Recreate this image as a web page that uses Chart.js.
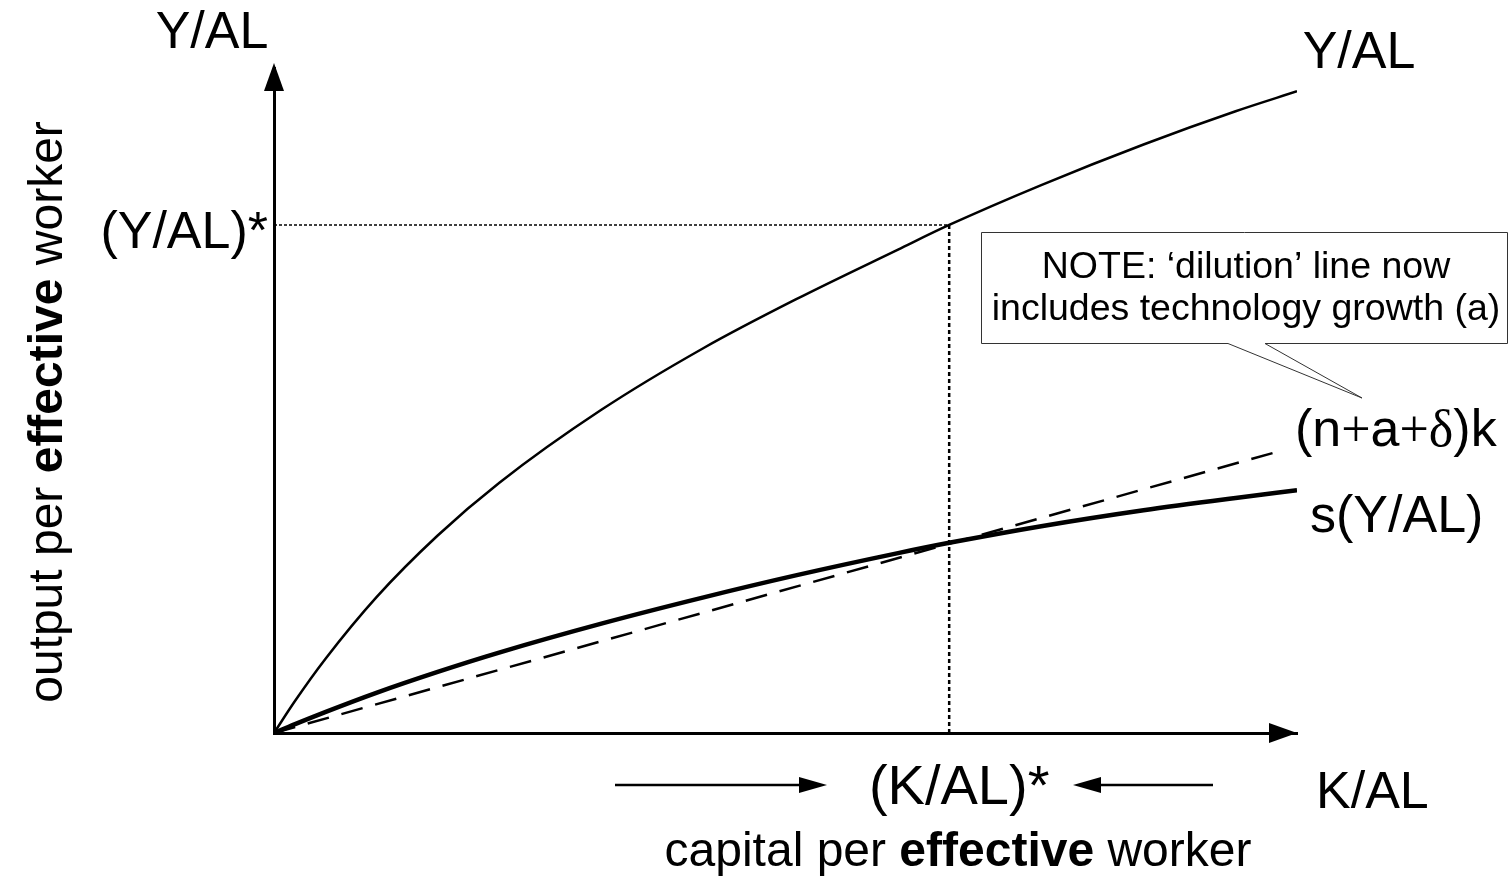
<!DOCTYPE html>
<html>
<head>
<meta charset="utf-8">
<title>Solow model with technology growth</title>
<script src="https://cdn.jsdelivr.net/npm/chart.js@4.4.1/dist/chart.umd.min.js"></script>
<style>
  html, body { margin: 0; padding: 0; background: #fff; }
  #wrap { width: 1509px; height: 879px; }
</style>
</head>
<body>
<div id="wrap"><canvas id="myChart" width="1509" height="879"></canvas></div>
<script>
// capital per effective worker (K/AL), shared by both curves
const kValues = [0, 2, 5, 10, 16, 22, 32, 42, 51, 61, 66, 75, 85, 94, 100];
// output per effective worker, Y/AL
const outputValues = [0, 4.7, 11.1, 20.4, 29.7, 37.6, 48.6, 57.9, 65.2, 72.7, 76.4, 82.4, 88.5, 93.5, 96.5];
// investment per effective worker, s(Y/AL)
const savingValues = [0, 1.3, 3.15, 6.05, 9.2, 12.1, 16.45, 20.4, 23.7, 27.05, 28.6, 31.1, 33.5, 35.35, 36.5];
// dilution line (n+a+δ)k, straight from the origin
const dilutionK = [0, 98.8];
const dilutionValues = [0, 42.6];
// steady state is this entry of kValues
const steadyIndex = 10;

const kStar = kValues[steadyIndex];
const yStar = outputValues[steadyIndex];

const SANS = '"Liberation Sans", Arial, Helvetica, sans-serif';
const SERIF = '"Liberation Serif", "Times New Roman", serif';

const toPoints = (xs, ys) => xs.map((x, i) => ({ x: x, y: ys[i] }));

// draws a row of text pieces, each with its own font
function drawPieces(ctx, pieces, x, y, align) {
  let total = 0;
  pieces.forEach(p => { ctx.font = p[1]; total += ctx.measureText(p[0]).width; });
  let cx = align === 'center' ? x - total / 2 : x;
  ctx.textAlign = 'left';
  pieces.forEach(p => {
    ctx.font = p[1];
    ctx.fillText(p[0], cx, y);
    cx += ctx.measureText(p[0]).width;
  });
}

function arrowHead(ctx, tipX, tipY, dx, dy, len, half) {
  // dx, dy: unit direction the arrow points to
  const bx = tipX - dx * len, by = tipY - dy * len;
  ctx.beginPath();
  ctx.moveTo(tipX, tipY);
  ctx.lineTo(bx - dy * half, by + dx * half);
  ctx.lineTo(bx + dy * half, by - dx * half);
  ctx.closePath();
  ctx.fill();
}

const annotations = {
  id: 'annotations',
  afterDraw(chart) {
    const ctx = chart.ctx;
    const area = chart.chartArea;
    const xs = chart.scales.x, ys = chart.scales.y;
    ctx.save();
    ctx.fillStyle = '#000';
    ctx.strokeStyle = '#000';
    ctx.textBaseline = 'alphabetic';

    // axis arrowheads
    arrowHead(ctx, area.left, area.top - 5, 0, -1, 28, 10);
    arrowHead(ctx, area.right, area.bottom, 1, 0, 28, 10);

    const big = '52px ' + SANS;
    ctx.font = big;
    ctx.textAlign = 'center';
    ctx.fillText('Y/AL', 212, 48);
    ctx.textAlign = 'right';
    ctx.fillText('(Y/AL)*', area.left - 6, ys.getPixelForValue(yStar) + 23);

    // curve end labels
    ctx.textAlign = 'center';
    ctx.fillText('Y/AL', 1359, 68);
    ctx.textAlign = 'left';
    ctx.fillText('s(Y/AL)', 1310, 532);
    drawPieces(ctx, [
      ['(n', big], ['+', '52px ' + SERIF], ['a', big],
      ['+', '52px ' + SERIF], ['\u03b4', '52px ' + SERIF], [')k', big]
    ], 1295, 446, 'left');
    ctx.fillText('K/AL', 1316, 808);

    // steady state capital and the adjustment arrows
    ctx.font = '56px ' + SANS;
    ctx.textAlign = 'center';
    ctx.fillText('(K/AL)*', xs.getPixelForValue(kStar) + 10, 804);
    ctx.lineWidth = 2.5;
    ctx.beginPath();
    ctx.moveTo(615, 785); ctx.lineTo(805, 785);
    ctx.moveTo(1213, 785); ctx.lineTo(1095, 785);
    ctx.stroke();
    arrowHead(ctx, 827, 785, 1, 0, 28, 8);
    arrowHead(ctx, 1073, 785, -1, 0, 28, 8);

    // axis titles
    const mid = '48px ' + SANS, bold = 'bold 48px ' + SANS;
    drawPieces(ctx, [['capital per ', mid], ['effective', bold], [' worker', mid]], 958, 866, 'center');
    ctx.save();
    ctx.translate(62, 412);
    ctx.rotate(-Math.PI / 2);
    drawPieces(ctx, [['output per ', mid], ['effective', bold], [' worker', mid]], 0, 0, 'center');
    ctx.restore();

    // callout box
    ctx.lineWidth = 1;
    ctx.strokeStyle = '#333';
    ctx.fillStyle = '#fff';
    ctx.beginPath();
    ctx.moveTo(981.5, 232.5);
    ctx.lineTo(1507.5, 232.5);
    ctx.lineTo(1507.5, 343.5);
    ctx.lineTo(1265, 343.5);
    ctx.lineTo(1362, 398);
    ctx.lineTo(1228, 343.5);
    ctx.lineTo(981.5, 343.5);
    ctx.closePath();
    ctx.fill();
    ctx.stroke();
    ctx.fillStyle = '#000';
    ctx.font = '37.5px ' + SANS;
    ctx.textAlign = 'center';
    ctx.fillText('NOTE: \u2018dilution\u2019 line now', 1246, 278);
    ctx.fillText('includes technology growth (a)', 1246, 320);
    ctx.restore();
  }
};

const ctx = document.getElementById('myChart').getContext('2d');
new Chart(ctx, {
  type: 'line',
  data: {
    datasets: [
      {
        label: 'Y/AL',
        data: toPoints(kValues, outputValues),
        borderColor: '#000',
        borderWidth: 2.5,
        cubicInterpolationMode: 'monotone'
      },
      {
        label: 's(Y/AL)',
        data: toPoints(kValues, savingValues),
        borderColor: '#000',
        borderWidth: 4.5,
        cubicInterpolationMode: 'monotone'
      },
      {
        label: '(n+a+δ)k',
        data: toPoints(dilutionK, dilutionValues),
        borderColor: '#000',
        borderWidth: 2.5,
        borderDash: [22, 13]
      },
      {
        label: 'Y* guide',
        data: [{ x: 0, y: yStar }, { x: kStar, y: yStar }],
        borderColor: '#000',
        borderWidth: 1.5,
        borderDash: [3, 2]
      },
      {
        label: 'K* guide',
        data: [{ x: kStar, y: yStar }, { x: kStar, y: 0 }],
        borderColor: '#000',
        borderWidth: 2.5,
        borderDash: [4, 3]
      }
    ]
  },
  options: {
    responsive: false,
    devicePixelRatio: 1,
    animation: false,
    events: [],
    elements: { point: { radius: 0 } },
    layout: { padding: { left: 274, right: 212, top: 68, bottom: 146 } },
    plugins: {
      legend: { display: false },
      tooltip: { enabled: false }
    },
    scales: {
      x: {
        type: 'linear',
        min: 0,
        max: 100,
        grid: { display: false, drawTicks: false },
        ticks: { display: false },
        border: { display: true, color: '#000', width: 3 },
        afterFit: s => { s.height = 0; }
      },
      y: {
        type: 'linear',
        min: 0,
        max: 100,
        grid: { display: false, drawTicks: false },
        ticks: { display: false },
        border: { display: true, color: '#000', width: 3 },
        afterFit: s => { s.width = 0; }
      }
    }
  },
  plugins: [annotations]
});
</script>
</body>
</html>
